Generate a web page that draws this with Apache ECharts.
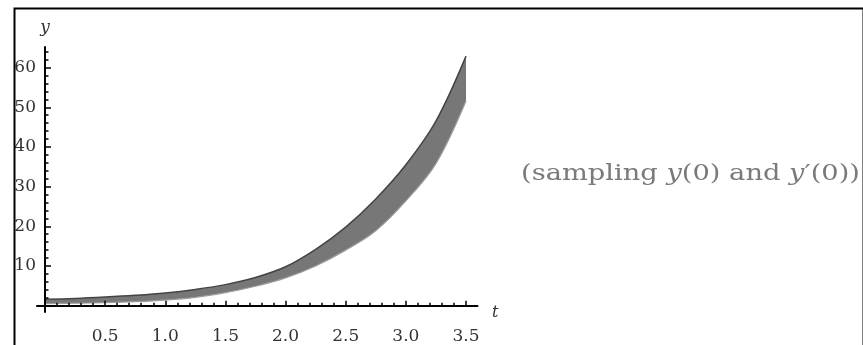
<!DOCTYPE html>
<html>
<head>
<meta charset="utf-8">
<script src="https://cdn.jsdelivr.net/npm/echarts@6/dist/echarts.min.js"></script>
<style>
html,body{margin:0;padding:0;background:#fff;}
#c{width:863px;height:345px;}
</style>
</head>
<body>
<div id="c"></div>
<script>
// ---- data ----
const tValues = [0, 0.25, 0.5, 0.75, 1.0, 1.25, 1.5, 1.75, 2.0, 2.25, 2.5, 2.75, 3.0, 3.25, 3.5];
const upperY  = [1.6, 1.8, 2.15, 2.6, 3.2, 4.1, 5.3, 7.1, 9.8, 14.2, 19.8, 26.9, 35.5, 46.5, 62.9];
const lowerY  = [0.5, 0.6, 0.75, 1.0, 1.4, 2.1, 3.3, 4.9, 7.0, 10.0, 14.0, 18.9, 26.4, 35.8, 51.6];

const xMajorTicks = [0.5, 1.0, 1.5, 2.0, 2.5, 3.0, 3.5];
const xMinorTicks = [0.1,0.2,0.3,0.4,0.6,0.7,0.8,0.9,1.1,1.2,1.3,1.4,1.6,1.7,1.8,1.9,2.1,2.2,2.3,2.4,2.6,2.7,2.8,2.9,3.1,3.2,3.3,3.4];
const yMajorTicks = [10, 20, 30, 40, 50, 60];
const yMinorTicks = [2,4,6,8,12,14,16,18,22,24,26,28,32,34,36,38,42,44,46,48,52,54,56,58,62,64];

const xName = 't';
const yName = 'y';
const noteText = '(sampling {i|y}(0) and {i|y}\u2032(0))';

// ---- layout (pixel-aligned so t=0 -> x=45, t=3.5 -> x=466) ----
const pxPerT = 421 / 3.5;
const gridLeft = 37, gridWidth = 440.5;
const xMin = -(45 - gridLeft) / pxPerT;
const xMax = xMin + gridWidth / pxPerT;
const yMin = -1.6, yMax = 65.2;

const upperData = tValues.map((t, i) => [t, upperY[i]]);
const lowerData = tValues.map((t, i) => [t, lowerY[i]]);

const labelFont = { fontFamily: 'DejaVu Serif', fontSize: 17, color: '#333' };

function xAxisBase(extra) {
  return Object.assign({
    type: 'value', min: xMin, max: xMax, position: 'bottom', z: 10,
    splitLine: { show: false }
  }, extra);
}
function yAxisBase(extra) {
  return Object.assign({
    type: 'value', min: yMin, max: yMax, position: 'left', z: 10,
    splitLine: { show: false }
  }, extra);
}

const chart = echarts.init(document.getElementById('c'), null, { renderer: 'canvas' });
chart.setOption({
  animation: false,
  backgroundColor: '#fff',
  grid: { left: gridLeft, width: gridWidth, top: 47, height: 270.6 },
  xAxis: [
    xAxisBase({
      axisLine: { show: true, onZero: true, lineStyle: { color: '#000', width: 2 } },
      axisTick: { show: true, inside: true, length: 5, customValues: xMajorTicks, lineStyle: { color: '#000', width: 1.5 } },
      axisLabel: Object.assign({ show: true, customValues: xMajorTicks, margin: 16, formatter: v => v.toFixed(1) }, labelFont)
    }),
    xAxisBase({
      axisLine: { show: false, onZero: true },
      axisTick: { show: true, inside: true, length: 3, customValues: xMinorTicks, lineStyle: { color: '#000', width: 1.5 } },
      axisLabel: { show: false }
    })
  ],
  yAxis: [
    yAxisBase({
      name: yName, nameLocation: 'end', nameGap: 11,
      nameTextStyle: { fontFamily: 'DejaVu Serif', fontStyle: 'italic', fontSize: 17, color: '#333', align: 'center' },
      axisLine: { show: true, onZero: true, lineStyle: { color: '#000', width: 2 } },
      axisTick: { show: true, inside: true, length: 6, customValues: yMajorTicks, lineStyle: { color: '#000', width: 1.5 } },
      axisLabel: Object.assign({ show: true, customValues: yMajorTicks, margin: 1 }, labelFont)
    }),
    yAxisBase({
      axisLine: { show: false, onZero: true },
      axisTick: { show: true, inside: true, length: 3.5, customValues: yMinorTicks, lineStyle: { color: '#000', width: 1.5 } },
      axisLabel: { show: false }
    })
  ],
  series: [
    {
      type: 'line', data: upperData, smooth: 0.35,
      showSymbol: false, symbol: 'none',
      lineStyle: { color: '#444444', width: 1.5 },
      areaStyle: { color: '#777777', opacity: 1 },
      z: 2
    },
    {
      type: 'line', data: lowerData, smooth: 0.35,
      showSymbol: false, symbol: 'none',
      lineStyle: { color: '#9c9c9c', width: 1.2 },
      areaStyle: { color: '#ffffff', opacity: 1 },
      z: 3
    }
  ],
  graphic: [
    {
      type: 'rect', left: 12, top: 6, silent: true,
      shape: { x: 0, y: 0, width: 849, height: 400 },
      style: { fill: 'none', stroke: '#000', lineWidth: 2 },
      z: 100
    },
    {
      type: 'text', x: 492, y: 305,
      style: { text: xName, fontFamily: 'DejaVu Serif', fontStyle: 'italic', fontSize: 16, fill: '#333' }
    },
    {
      type: 'text', x: 521, y: 163, scaleX: 1.24,
      style: {
        text: noteText,
        fontFamily: 'DejaVu Serif', fontSize: 22, fill: '#7a7a7a',
        rich: { i: { fontFamily: 'DejaVu Serif', fontStyle: 'italic', fontSize: 22, fill: '#7a7a7a' } }
      }
    }
  ]
});
</script>
</body>
</html>
